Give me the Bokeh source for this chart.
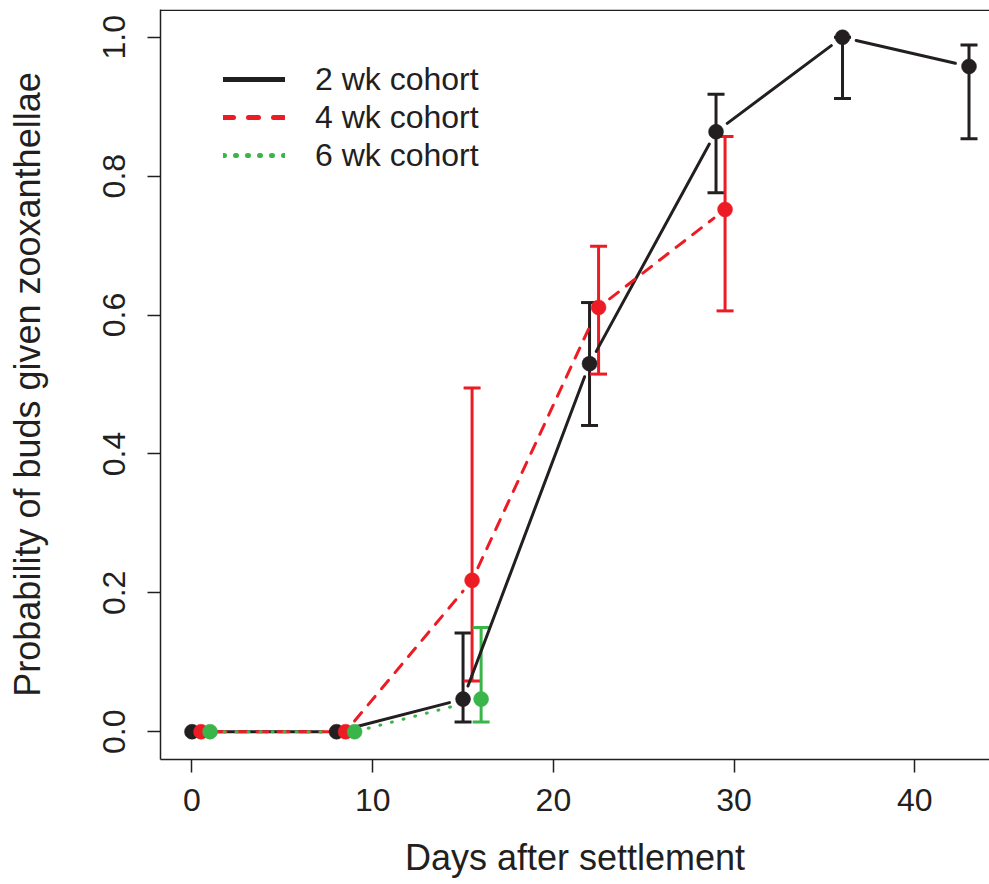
import numpy as np
from bokeh.plotting import figure
from bokeh.models import (Range1d, FixedTicker, PrintfTickFormatter, Whisker, TeeHead,
                          ColumnDataSource, Legend, LegendItem, Span)
from bokeh.embed import file_html
from bokeh.resources import INLINE

# ---------------- data ----------------
days_2wk = [0, 8, 15, 22, 29, 36, 43]
prob_2wk = [0.0, 0.0, 0.047, 0.530, 0.864, 1.000, 0.958]
lower_2wk = [0.0, 0.0, 0.014, 0.441, 0.776, 0.912, 0.854]
upper_2wk = [0.0, 0.0, 0.142, 0.618, 0.918, 1.000, 0.989]

days_4wk = [0.5, 8.5, 15.5, 22.5, 29.5]
prob_4wk = [0.0, 0.0, 0.218, 0.611, 0.752]
lower_4wk = [0.0, 0.0, 0.073, 0.515, 0.606]
upper_4wk = [0.0, 0.0, 0.495, 0.699, 0.857]

days_6wk = [1, 9, 16]
prob_6wk = [0.0, 0.0, 0.047]
lower_6wk = [0.0, 0.0, 0.014]
upper_6wk = [0.0, 0.0, 0.150]

series_names = ["2 wk cohort", "4 wk cohort", "6 wk cohort"]
x_ticks = [0, 10, 20, 30, 40]
y_ticks = [0.0, 0.2, 0.4, 0.6, 0.8, 1.0]

# ---------------- layout ----------------
FONT = "Liberation Sans"
INK = "#231F20"
COLORS = [INK, "#ED1C24", "#39B54A"]
DASHES = ["solid", "11 10", "1 11"]
LEG_DASHES = ["solid", "10 15", "1 11"]

FIG_W, FIG_H = 989, 884
BORDER_L, BORDER_R, BORDER_T, BORDER_B = 160, 0, 9, 125
FRAME_W = FIG_W - BORDER_L - BORDER_R
FRAME_H = FIG_H - BORDER_T - BORDER_B
X0 = -1.743
X1 = X0 + FRAME_W / 18.07
Y0, Y1 = -0.04, 1.04
SX = FRAME_W / (X1 - X0)
SY = FRAME_H / (Y1 - Y0)
GAP = 14.0  # px gap left around points (R type="b")

p = figure(width=FIG_W, height=FIG_H, x_range=Range1d(X0, X1), y_range=Range1d(Y0, Y1),
           output_backend="svg", toolbar_location=None,
           min_border_left=BORDER_L, min_border_right=BORDER_R,
           min_border_top=BORDER_T, min_border_bottom=BORDER_B)
p.outline_line_color = None
p.xgrid.grid_line_color = None
p.ygrid.grid_line_color = None
p.background_fill_color = "white"
p.border_fill_color = "white"
# top edge of the (cropped) box, kept just inside the frame so it is not clipped
p.add_layout(Span(location=Y1 - 0.8 / SY, dimension="width", line_color=INK, line_width=1.5))

xax = p.xaxis[0]
yax = p.yaxis[0]
for ax in (xax, yax):
    ax.axis_line_color = INK
    ax.axis_line_width = 1.5
    ax.major_tick_line_color = INK
    ax.major_tick_line_width = 1.5
    ax.major_tick_in = 0
    ax.major_tick_out = 13
    ax.minor_tick_line_color = None
    ax.major_label_text_font = FONT
    ax.major_label_text_font_size = "32px"
    ax.major_label_text_color = INK
    ax.axis_label_text_font = FONT
    ax.axis_label_text_font_size = "36px"
    ax.axis_label_text_font_style = "normal"
    ax.axis_label_text_color = INK

xax.ticker = FixedTicker(ticks=x_ticks)
yax.ticker = FixedTicker(ticks=y_ticks)
yax.formatter = PrintfTickFormatter(format="%.1f")
xax.axis_label = "Days after settlement"
yax.axis_label = "Probability of buds given zooxanthellae"
xax.major_label_standoff = 16
yax.major_label_standoff = 22
yax.major_label_orientation = "parallel"
xax.axis_label_standoff = 23
yax.axis_label_standoff = 53


def gapped_segments(xs, ys, gap):
    x = np.asarray(xs, float)
    y = np.asarray(ys, float)
    dxp = np.diff(x) * SX
    dyp = np.diff(y) * SY
    L = np.hypot(dxp, dyp)
    keep = L > 2 * gap
    f = np.where(keep, gap / np.where(L > 0, L, 1), 0)
    x0 = x[:-1] + np.diff(x) * f
    y0 = y[:-1] + np.diff(y) * f
    x1 = x[1:] - np.diff(x) * f
    y1 = y[1:] - np.diff(y) * f
    return dict(x0=x0[keep], y0=y0[keep], x1=x1[keep], y1=y1[keep])


all_series = [
    (days_2wk, prob_2wk, lower_2wk, upper_2wk),
    (days_4wk, prob_4wk, lower_4wk, upper_4wk),
    (days_6wk, prob_6wk, lower_6wk, upper_6wk),
]

# lines
for (xs, ys, lo, up), col, dash in zip(all_series, COLORS, DASHES):
    seg = ColumnDataSource(gapped_segments(xs, ys, GAP))
    p.segment(x0="x0", y0="y0", x1="x1", y1="y1", source=seg, line_color=col,
              line_width=3, line_dash=dash, line_cap="round")

# error bars
for (xs, ys, lo, up), col in zip(all_series, COLORS):
    xs_a = np.asarray(xs, float)
    lo_a = np.asarray(lo, float)
    up_a = np.asarray(up, float)
    m = up_a > lo_a
    src = ColumnDataSource(dict(x=xs_a[m], lower=lo_a[m], upper=up_a[m]))
    w = Whisker(base="x", lower="lower", upper="upper", source=src, dimension="height",
                line_color=col, line_width=3,
                upper_head=TeeHead(size=17, line_color=col, line_width=3),
                lower_head=TeeHead(size=17, line_color=col, line_width=3))
    p.add_layout(w)

# points
for (xs, ys, lo, up), col in zip(all_series, COLORS):
    p.scatter(x=xs, y=ys, size=15, fill_color=col, line_color=col, line_width=0.5)

# legend (thicker legend lines like R's legend); sample renderers draw nothing in the plot
items = []
for name, col, dash in zip(series_names, COLORS, LEG_DASHES):
    r = p.line(x=[np.nan, np.nan], y=[np.nan, np.nan], line_color=col, line_width=5,
               line_dash=dash, line_cap="round")
    items.append(LegendItem(label=name, renderers=[r]))

legend = Legend(items=items, location=(63, 585), glyph_width=62, glyph_height=38,
                label_height=38, spacing=0, padding=0, margin=0, label_standoff=30,
                border_line_color=None, background_fill_alpha=0,
                label_text_font=FONT, label_text_font_size="32px", label_text_color=INK)
p.add_layout(legend)

open("out.html", "w").write(file_html(p, INLINE))
